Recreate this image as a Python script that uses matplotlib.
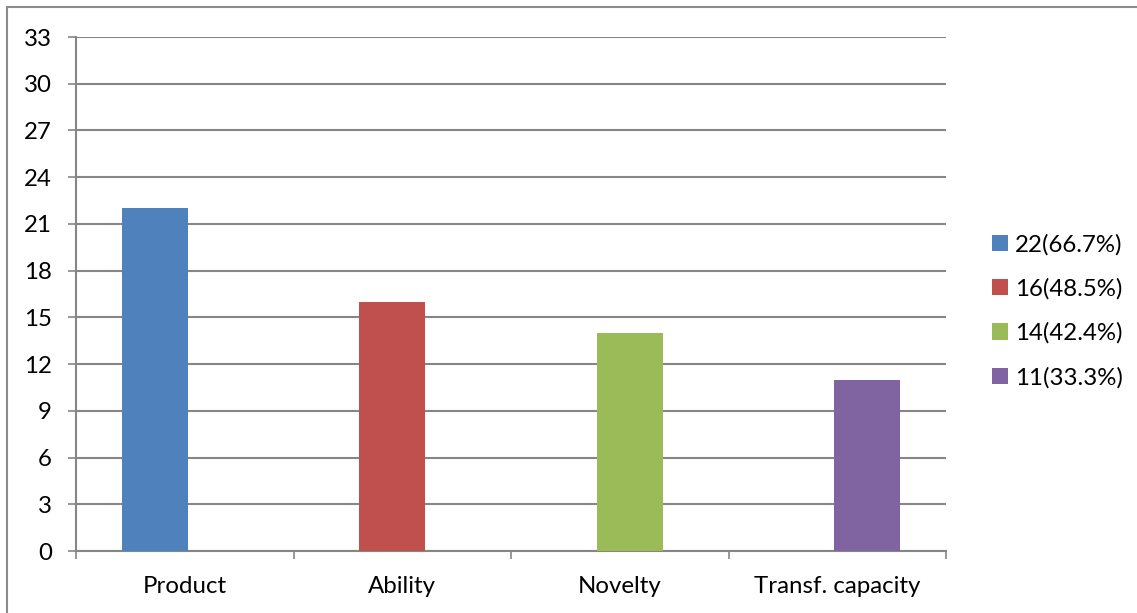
import matplotlib
matplotlib.use("Agg")
import matplotlib.pyplot as plt
from matplotlib.patches import Rectangle
import numpy as np

categories = ["Product", "Ability", "Novelty", "Transf. capacity"]
values = [22, 16, 14, 11]
legend_labels = ["22(66.7%)", "16(48.5%)", "14(42.4%)", "11(33.3%)"]
colors = ["#4F81BD", "#C0504D", "#9BBB59", "#8064A2"]
yticks = list(range(0, 34, 3))

plt.rcParams['font.family'] = ['Lato', 'DejaVu Sans']
FS = 17.3

W, H = 1137, 613
fig = plt.figure(figsize=(W / 100, H / 100), dpi=100)
ax = fig.add_axes([76 / W, (H - 551) / H, 870 / W, 514 / H])

n = len(values)
bar_w = 0.303
step = 0.091
x = np.arange(n)
handles = []
for j, (v, c, lab) in enumerate(zip(values, colors, legend_labels)):
    off = (j - (n - 1) / 2) * step
    h = ax.bar(x[j] + off, v, width=bar_w, color=c, label=lab, zorder=3)
    handles.append(h)

ax.set_xlim(-0.5, n - 0.5)
ax.set_ylim(0, 33)
ax.set_yticks(yticks)
ax.set_yticklabels([str(t) for t in yticks], fontsize=FS)
ax.set_xticks(x)
ax.set_xticklabels(categories, fontsize=FS)
ax.set_xticks(np.arange(-0.5, n, 1.0), minor=True)

gcol = "#868686"
ax.grid(axis='y', color=gcol, linewidth=1.5, zorder=0)
ax.set_axisbelow(True)
for s in ['top', 'right']:
    ax.spines[s].set_visible(False)
for s in ['left', 'bottom']:
    ax.spines[s].set_color(gcol)
    ax.spines[s].set_linewidth(1.5)
ax.tick_params(axis='y', direction='out', length=5.8, width=1.2, color=gcol, pad=11.5)
ax.tick_params(axis='x', which='major', length=0, pad=18)
ax.tick_params(axis='x', which='minor', direction='out', length=5.8, width=1.2, color=gcol)

fig.legend(handles=handles, labels=legend_labels, loc='center left',
           bbox_to_anchor=(982 / W, (H - 311) / H), frameon=False,
           fontsize=FS, handlelength=0.68, handleheight=0.68,
           handletextpad=0.3, labelspacing=0.95, borderaxespad=0)

fig.add_artist(Rectangle((7 / W, -0.1), 1.2, (H - 7) / H + 0.1, transform=fig.transFigure,
                         fill=False, edgecolor="#8C8C8C", linewidth=1.5))

fig.savefig("out.png", dpi=100)
